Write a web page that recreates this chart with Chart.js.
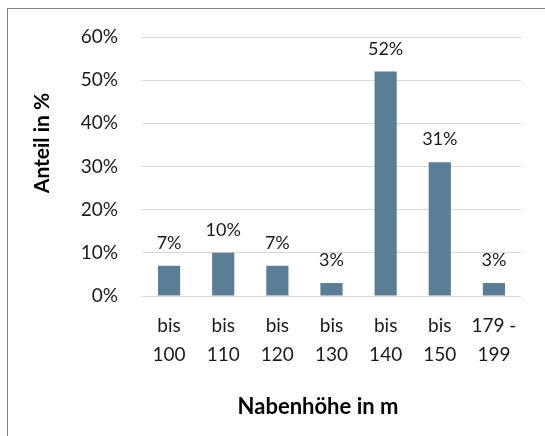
<!DOCTYPE html>
<html>
<head>
<meta charset="utf-8">
<script src="https://cdn.jsdelivr.net/npm/chart.js@4"></script>
<style>
    body { margin: 0; background: #fff; }
    #wrap { position: relative; width: 545px; height: 436px; overflow: hidden; }
    #frame { position: absolute; left: 7px; top: 8px; width: 600px; height: 500px; border: 1px solid #808080; }
    canvas { position: absolute; left: 0; top: 0; }
</style>
</head>
<body>
<div id="wrap">
    <div id="frame"></div>
    <canvas id="chart" width="545" height="436"></canvas>
</div>
<script>
const categories = [['bis', '100'], ['bis', '110'], ['bis', '120'], ['bis', '130'], ['bis', '140'], ['bis', '150'], ['179 -', '199']];
const shares = [7, 10, 7, 3, 52, 31, 3];
const yTicks = [0, 10, 20, 30, 40, 50, 60];
const yTitle = 'Anteil in %';
const xTitle = 'Nabenhöhe in m';

const FONT = 'Lato, "Open Sans", sans-serif';

// value labels above the bars
const barLabels = {
    id: 'barLabels',
    afterDatasetsDraw(chart) {
        const ctx = chart.ctx;
        const meta = chart.getDatasetMeta(0);
        ctx.save();
        ctx.font = '18px ' + FONT;
        ctx.fillStyle = '#1a1a1a';
        ctx.textAlign = 'center';
        ctx.textBaseline = 'alphabetic';
        meta.data.forEach((bar, i) => {
            ctx.fillText(shares[i] + '%', bar.x, bar.y - 17);
        });
        ctx.restore();
    }
};

// axis titles, placed like the Excel original (not centred on the plot)
const axisTitles = {
    id: 'axisTitles',
    afterDraw(chart) {
        const ctx = chart.ctx;
        ctx.save();
        ctx.fillStyle = '#000';
        ctx.textAlign = 'center';
        ctx.textBaseline = 'middle';
        ctx.font = 'bold 22px ' + FONT;
        ctx.fillText(xTitle, 318, 407);
        ctx.translate(42, 143);
        ctx.rotate(-Math.PI / 2);
        ctx.font = 'bold 21px ' + FONT;
        ctx.fillText(yTitle, 0, 0);
        ctx.restore();
    }
};

new Chart(document.getElementById('chart'), {
    type: 'bar',
    data: {
        labels: categories,
        datasets: [{
            data: shares,
            backgroundColor: '#5b7e96',
            categoryPercentage: 1,
            barPercentage: 0.41
        }]
    },
    options: {
        responsive: false,
        animation: false,
        layout: { padding: { left: 20, right: 24, top: 37, bottom: 0 } },
        plugins: { legend: { display: false }, tooltip: { enabled: false } },
        scales: {
            y: {
                min: 0,
                max: 60,
                afterFit: (s) => { s.width = 122; },
                afterBuildTicks: (s) => { s.ticks = yTicks.map(v => ({ value: v })); },
                border: { display: false },
                grid: { color: '#d9d9d9', lineWidth: 1, drawTicks: false },
                ticks: {
                    padding: 24,
                    color: '#1a1a1a',
                    font: { family: FONT, size: 19 },
                    callback: (v) => v + '%'
                }
            },
            x: {
                afterFit: (s) => { s.height = 140; },
                border: { display: false },
                grid: { display: false, drawTicks: false },
                ticks: {
                    padding: 15,
                    maxRotation: 0,
                    autoSkip: false,
                    color: '#1a1a1a',
                    font: { family: FONT, size: 19, lineHeight: 1.53 }
                }
            }
        }
    },
    plugins: [barLabels, axisTitles]
});
</script>
</body>
</html>
